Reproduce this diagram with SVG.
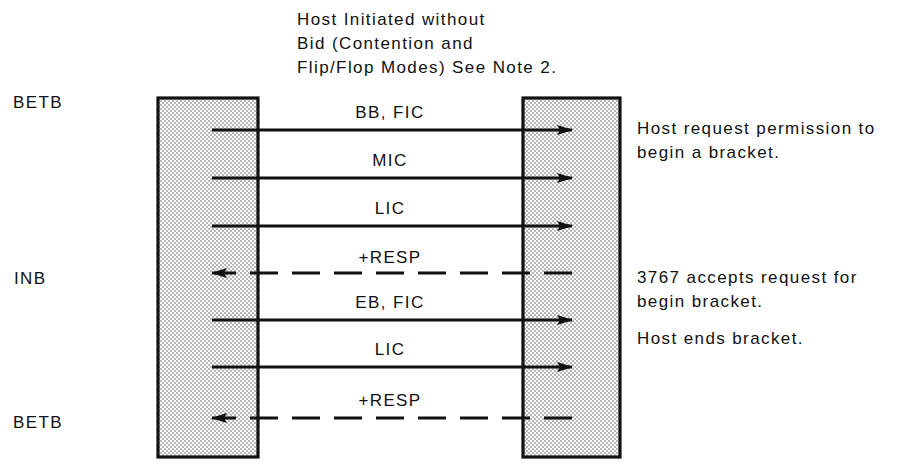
<svg xmlns="http://www.w3.org/2000/svg" width="899" height="465" viewBox="0 0 899 465">
<style>
text{font-family:"Liberation Sans",Arial,sans-serif;font-size:17px;letter-spacing:1.4px;fill:#111}
.c{text-anchor:middle}
.box{fill:url(#dots);stroke:#111;stroke-width:3.2}
.s{stroke:#111;stroke-width:2.8;fill:none}
.d{stroke:#111;stroke-width:2.8;fill:none;stroke-dasharray:28 14}
</style>
<defs>
<pattern id="dots" width="4" height="4" patternUnits="userSpaceOnUse">
<rect width="4" height="4" fill="#fafafa"/>
<circle cx="1" cy="1" r="0.75" fill="#555"/>
<circle cx="3" cy="3" r="0.75" fill="#555"/>
</pattern>
<marker id="ah" viewBox="0 0 16 10" refX="15" refY="5" markerWidth="16" markerHeight="10" markerUnits="userSpaceOnUse" orient="auto">
<path d="M0,0 L16,5 L0,10 L3,5 Z" fill="#111"/>
</marker>
</defs>
<g id="title">
<text x="297" y="25">Host Initiated without</text>
<text x="297" y="49">Bid (Contention and</text>
<text x="297" y="73">Flip/Flop Modes) See Note 2.</text>
</g>
<g id="host"><rect class="box" x="158" y="98" width="100" height="359"/></g>
<g id="device"><rect class="box" x="523" y="98" width="97" height="359"/></g>
<g id="left-labels">
<text x="13" y="108">BETB</text>
<text x="14" y="284">INB</text>
<text x="13" y="428">BETB</text>
</g>
<g id="right-labels">
<text x="637" y="134">Host request permission to</text>
<text x="637" y="158">begin a bracket.</text>
<text x="637" y="283">3767 accepts request for</text>
<text x="637" y="307">begin bracket.</text>
<text x="637" y="344">Host ends bracket.</text>
</g>
<g id="connectors">
<line class="s" x1="212" y1="130" x2="572" y2="130" marker-end="url(#ah)"/>
<line class="s" x1="212" y1="178" x2="572" y2="178" marker-end="url(#ah)"/>
<line class="s" x1="212" y1="226" x2="572" y2="226" marker-end="url(#ah)"/>
<line class="d" x1="572" y1="273" x2="212" y2="273" marker-end="url(#ah)"/>
<line class="s" x1="212" y1="320" x2="572" y2="320" marker-end="url(#ah)"/>
<line class="s" x1="212" y1="367" x2="572" y2="367" marker-end="url(#ah)"/>
<line class="d" x1="572" y1="418" x2="212" y2="418" marker-end="url(#ah)"/>
</g>
<g id="connector-labels">
<text class="c" x="390" y="118">BB, FIC</text>
<text class="c" x="390" y="166">MIC</text>
<text class="c" x="390" y="214">LIC</text>
<text class="c" x="390" y="263">+RESP</text>
<text class="c" x="390" y="308">EB, FIC</text>
<text class="c" x="390" y="355">LIC</text>
<text class="c" x="390" y="406">+RESP</text>
</g>
</svg>
